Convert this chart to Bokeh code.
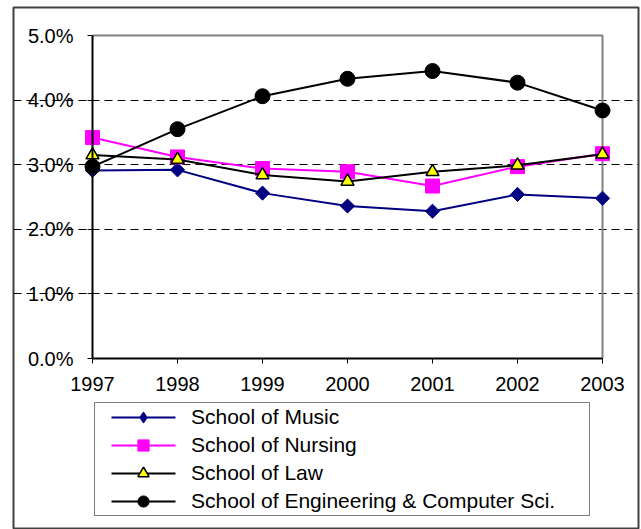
import math
from bokeh.plotting import figure
from bokeh.models import Range1d, FixedTicker, PrintfTickFormatter, Legend, LegendItem
from bokeh.embed import file_html
from bokeh.resources import INLINE

years = [1997, 1998, 1999, 2000, 2001, 2002, 2003]
music = [2.91, 2.92, 2.56, 2.36, 2.28, 2.54, 2.48]
nursing = [3.42, 3.12, 2.94, 2.89, 2.67, 2.97, 3.17]
law = [3.15, 3.08, 2.84, 2.74, 2.89, 2.99, 3.16]
eng = [2.97, 3.55, 4.06, 4.33, 4.45, 4.27, 3.84]
y_ticks = [0, 1, 2, 3, 4, 5]
grid_ticks = [1, 2, 3, 4]
series_names = ["School of Music", "School of Nursing", "School of Law",
                "School of Engineering & Computer Sci."]

FONT = "Liberation Sans"

# pixel geometry of the chart (frame = outer chart box)
PX_PER_YEAR = 85.0
PX_PER_PCT = 64.6
X0_PX, Y0_PX = 79, 351          # position of (1997, 0%) inside the frame
FW, FH = 625, 522

x_start = years[0] - X0_PX / PX_PER_YEAR
x_end = x_start + FW / PX_PER_YEAR
y_end = Y0_PX / PX_PER_PCT
y_start = y_end - FH / PX_PER_PCT

p = figure(frame_width=FW, frame_height=FH,
           min_border_left=13, min_border_right=3, min_border_top=7, min_border_bottom=0,
           x_range=Range1d(x_start, x_end), y_range=Range1d(y_start, y_end),
           output_backend="svg", toolbar_location=None,
           background_fill_color="white", border_fill_color="white")
p.outline_line_color = "#404040"
p.outline_line_width = 2

xa = p.xaxis[0]
xa.ticker = FixedTicker(ticks=years)
xa.bounds = (years[0], years[-1])
xa.fixed_location = y_ticks[0]
ya = p.yaxis[0]
ya.ticker = FixedTicker(ticks=y_ticks)
ya.formatter = PrintfTickFormatter(format="%.1f%%")
ya.bounds = (y_ticks[0], y_ticks[-1])
ya.fixed_location = years[0]
for ax in (xa, ya):
    ax.axis_line_color = "black"
    ax.axis_line_width = 2
    ax.major_tick_line_color = "black"
    ax.major_tick_line_width = 1
    ax.major_tick_out = 5
    ax.major_tick_in = 0
    ax.minor_tick_line_color = None
    ax.major_label_text_font = FONT
    ax.major_label_text_font_size = "20px"
    ax.major_label_text_color = "black"
xa.major_label_standoff = 13
ya.major_label_standoff = 14

p.xgrid.visible = False
p.ygrid.ticker = FixedTicker(ticks=grid_ticks)
p.ygrid.grid_line_color = "black"
p.ygrid.grid_line_dash = "8 5"
p.ygrid.grid_line_width = 1
p.ygrid.bounds = (years[0], years[-1])

# plot-area border (top and right, grey)
p.line([years[0], years[-1], years[-1]], [y_ticks[-1], y_ticks[-1], y_ticks[0]],
       line_color="#808080", line_width=2)

series = [music, nursing, law, eng]
styles = [
    dict(color="#000080", marker="diamond", fill="#000080", mline="#000080", mw=1),
    dict(color="#FF00FF", marker="square", fill="#FF00FF", mline="#FF00FF", mw=1),
    dict(color="black", marker="triangle", fill="#FFFF00", mline="black", mw=1.5),
    dict(color="black", marker="circle", fill="black", mline="black", mw=1),
]

p.line(years, music, line_color="#000080", line_width=2)
p.scatter(years, music, marker="square", angle=math.pi / 4, size=10,
          fill_color="#000080", line_color="#000080")
p.line(years, nursing, line_color="#FF00FF", line_width=2)
p.scatter(years, nursing, marker="square", size=14, fill_color="#FF00FF", line_color="#FF00FF")
p.line(years, law, line_color="black", line_width=2)
p.scatter(years, law, marker="triangle", size=13, fill_color="#FFFF00",
          line_color="black", line_width=1.5)
p.line(years, eng, line_color="black", line_width=2)
p.scatter(years, eng, marker="circle", size=15, fill_color="black", line_color="black")

# legend-only renderers (hidden in the plot, used for the legend swatches)
items = []
for name, st, vals in zip(series_names, styles, series):
    ll = p.line(years, vals, line_color=st["color"], line_width=2,
                line_dash="64 1000", line_dash_offset=-16, visible=False)
    ls = p.scatter(years, vals, marker=st["marker"], fill_color=st["fill"],
                   line_color=st["mline"], line_width=st["mw"], visible=False)
    items.append(LegendItem(label=name, renderers=[ll, ls]))

leg = Legend(items=items, location=(81, 13), padding=0, margin=0, spacing=0,
             glyph_width=96, glyph_height=28, label_height=28, label_standoff=0,
             label_width=398,
             label_text_font=FONT, label_text_font_size="21px", label_text_color="black",
             border_line_color="black", border_line_width=1,
             background_fill_color="white", background_fill_alpha=1.0,
             inactive_fill_alpha=0.0)
p.add_layout(leg, "center")

open("out.html", "w").write(file_html(p, INLINE))
